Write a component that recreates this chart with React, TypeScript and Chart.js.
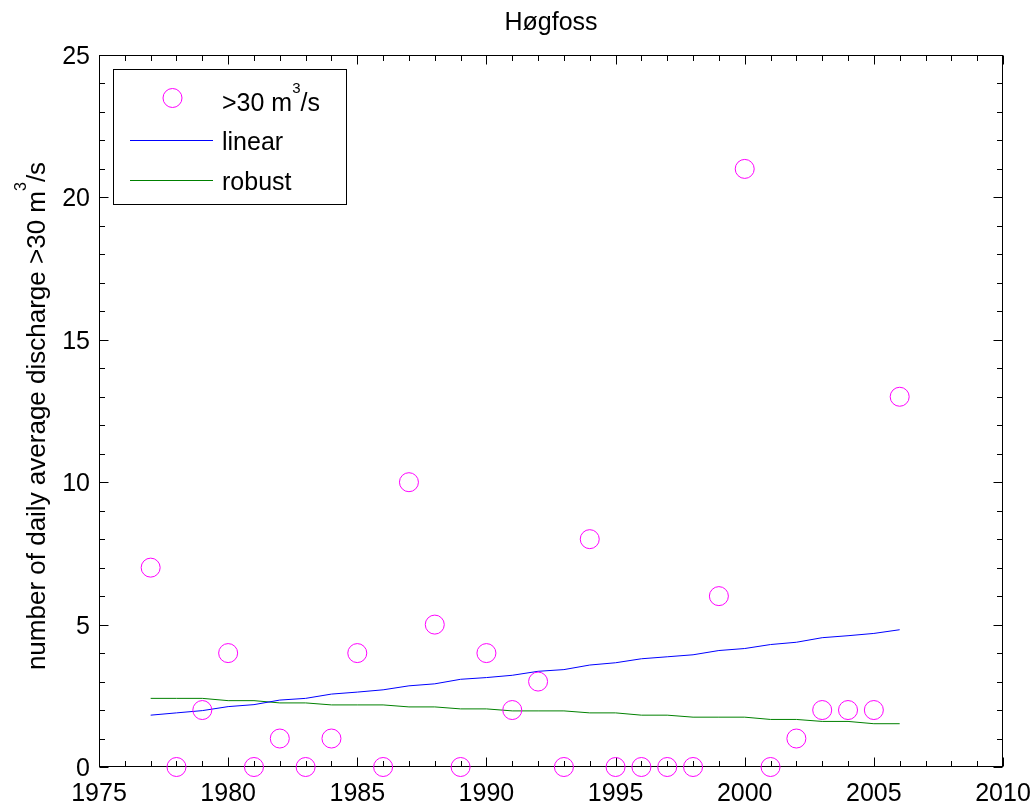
import React, { useEffect, useRef } from "react";
import { Chart, registerables } from "chart.js";

Chart.register(...registerables);

// ---------------- data ----------------
const years = [
  1977, 1978, 1979, 1980, 1981, 1982, 1983, 1984, 1985, 1986,
  1987, 1988, 1989, 1990, 1991, 1992, 1993, 1994, 1995, 1996,
  1997, 1998, 1999, 2000, 2001, 2002, 2003, 2004, 2005, 2006,
];
const exceedDays = [
  7, 0, 2, 4, 0, 1, 0, 1, 4, 0,
  10, 5, 0, 4, 2, 3, 0, 8, 0, 0,
  0, 0, 6, 21, 0, 1, 2, 2, 2, 13,
];
const linearTrend = [
  1.82, 1.9, 1.98, 2.12, 2.19, 2.35, 2.41, 2.56, 2.63, 2.71,
  2.85, 2.92, 3.08, 3.14, 3.22, 3.36, 3.42, 3.58, 3.66, 3.8,
  3.87, 3.94, 4.09, 4.16, 4.3, 4.38, 4.54, 4.61, 4.69, 4.82,
];
const robustTrend = [
  2.41, 2.41, 2.41, 2.33, 2.33, 2.25, 2.25, 2.18, 2.18, 2.18,
  2.11, 2.11, 2.04, 2.04, 1.97, 1.97, 1.97, 1.9, 1.9, 1.82,
  1.82, 1.75, 1.75, 1.75, 1.67, 1.67, 1.6, 1.6, 1.52, 1.52,
];
const xTickLabels = [1975, 1980, 1985, 1990, 1995, 2000, 2005, 2010];
const yTickLabels = [0, 5, 10, 15, 20, 25];
const titleText = "Høgfoss";
// rich text pieces: [text, isSuperscript]
const yAxisTitle: [string, boolean][] = [
  ["number of daily average discharge >30 m", false],
  ["3", true],
  ["/s", false],
];
const legendLabels: [string, boolean][][] = [
  [[">30 m", false], ["3", true], ["/s", false]],
  [["linear", false]],
  [["robust", false]],
];
const seriesColors = ["#ff00ff", "#0000ff", "#008000"];

const FONT_FAMILY = '"Liberation Sans", Arial, Helvetica, sans-serif';
const FS = 25;

function richWidth(ctx: CanvasRenderingContext2D, parts: [string, boolean][], size: number) {
  let w = 0;
  for (const [t, sup] of parts) {
    ctx.font = `${sup ? Math.round(size * 0.6) : size}px ${FONT_FAMILY}`;
    w += ctx.measureText(t).width;
  }
  return w;
}

function drawRich(
  ctx: CanvasRenderingContext2D,
  parts: [string, boolean][],
  x: number,
  y: number,
  size: number
) {
  let cx = x;
  ctx.textAlign = "left";
  ctx.textBaseline = "alphabetic";
  for (const [t, sup] of parts) {
    ctx.font = `${sup ? Math.round(size * 0.6) : size}px ${FONT_FAMILY}`;
    ctx.fillText(t, cx, sup ? y - size * 0.72 : y);
    cx += ctx.measureText(t).width;
  }
}

const framePlugin = {
  id: "matlabFrame",
  beforeDatasetsDraw(chart: any) {
    const ctx: CanvasRenderingContext2D = chart.ctx;
    const a = chart.chartArea;
    const xs = chart.scales.x;
    const ys = chart.scales.y;
    ctx.save();
    ctx.strokeStyle = "#000";
    ctx.lineWidth = 1;
    const L = Math.round(a.left) + 0.5;
    const R = Math.round(a.right) - 0.5;
    const T = Math.round(a.top) + 0.5;
    const B = Math.round(a.bottom) - 0.5;
    ctx.strokeRect(L, T, R - L, B - T);
    ctx.beginPath();
    // x ticks (every year; majors every 5)
    for (let v = xs.min; v <= xs.max + 1e-9; v += 1) {
      const len = Math.abs(v % 5) < 1e-9 ? 9 : 5.5;
      const px = Math.round(xs.getPixelForValue(v)) + 0.5;
      ctx.moveTo(px, B);
      ctx.lineTo(px, B - len);
      ctx.moveTo(px, T);
      ctx.lineTo(px, T + len);
    }
    // y ticks (every unit; majors every 5)
    for (let v = ys.min; v <= ys.max + 1e-9; v += 1) {
      const len = Math.abs(v % 5) < 1e-9 ? 9 : 5.5;
      const py = Math.round(ys.getPixelForValue(v)) + 0.5;
      ctx.moveTo(L, py);
      ctx.lineTo(L + len, py);
      ctx.moveTo(R, py);
      ctx.lineTo(R - len, py);
    }
    ctx.stroke();
    ctx.restore();
  },
  afterDraw(chart: any) {
    const ctx: CanvasRenderingContext2D = chart.ctx;
    const a = chart.chartArea;
    const xs = chart.scales.x;
    const ys = chart.scales.y;
    ctx.save();
    ctx.fillStyle = "#000";
    ctx.font = `${FS}px ${FONT_FAMILY}`;
    // x tick labels
    ctx.textAlign = "center";
    ctx.textBaseline = "alphabetic";
    for (const v of xTickLabels) {
      ctx.fillText(String(v), xs.getPixelForValue(v), a.bottom + 34);
    }
    // y tick labels
    ctx.textAlign = "right";
    for (const v of yTickLabels) {
      ctx.fillText(String(v), a.left - 9, ys.getPixelForValue(v) + 9);
    }
    // title
    ctx.textAlign = "center";
    ctx.fillText(titleText, (a.left + a.right) / 2, 30);
    // y axis title
    ctx.save();
    ctx.translate(45, 416);
    ctx.rotate(-Math.PI / 2);
    const w = richWidth(ctx, yAxisTitle, 26);
    drawRich(ctx, yAxisTitle, -w / 2, 0, 26);
    ctx.restore();

    // legend box
    ctx.fillStyle = "#fff";
    ctx.fillRect(113, 69, 234, 136);
    ctx.strokeStyle = "#000";
    ctx.lineWidth = 1;
    ctx.strokeRect(113.5, 69.5, 233, 135);
    const rows = [98, 140, 180];
    // marker
    ctx.strokeStyle = seriesColors[0];
    ctx.beginPath();
    ctx.arc(172.5, rows[0], 9.5, 0, Math.PI * 2);
    ctx.stroke();
    // lines
    for (let i = 1; i < 3; i++) {
      ctx.strokeStyle = seriesColors[i];
      ctx.beginPath();
      ctx.moveTo(130, rows[i] + 0.5);
      ctx.lineTo(213, rows[i] + 0.5);
      ctx.stroke();
    }
    ctx.fillStyle = "#000";
    for (let i = 0; i < 3; i++) {
      drawRich(ctx, legendLabels[i], 222, rows[i] + (i === 0 ? 13 : 10), FS);
    }
    ctx.restore();
  },
};

export default function App() {
  const ref = useRef<HTMLCanvasElement | null>(null);

  useEffect(() => {
    if (!ref.current) return;
    const chart = new Chart(ref.current, {
      type: "scatter",
      data: {
        datasets: [
          {
            label: ">30 m3/s",
            data: years.map((x, i) => ({ x, y: exceedDays[i] })),
            showLine: false,
            pointStyle: "circle",
            pointRadius: 9.5,
            pointBorderWidth: 1,
            pointBorderColor: seriesColors[0],
            pointBackgroundColor: "rgba(0,0,0,0)",
            borderColor: seriesColors[0],
            backgroundColor: "rgba(0,0,0,0)",
            clip: false as any,
            order: 0,
          },
          {
            type: "line",
            label: "linear",
            data: years.map((x, i) => ({ x, y: linearTrend[i] })),
            borderColor: seriesColors[1],
            borderWidth: 1,
            pointRadius: 0,
            tension: 0,
            fill: false,
            order: 1,
          } as any,
          {
            type: "line",
            label: "robust",
            data: years.map((x, i) => ({ x, y: robustTrend[i] })),
            borderColor: seriesColors[2],
            borderWidth: 1,
            pointRadius: 0,
            tension: 0,
            fill: false,
            order: 2,
          } as any,
        ],
      },
      options: {
        animation: false,
        responsive: false,
        events: [],
        layout: { padding: { top: 55, right: 33, left: 0, bottom: 0 } },
        plugins: {
          legend: { display: false },
          title: { display: false },
          tooltip: { enabled: false },
        },
        scales: {
          x: {
            type: "linear",
            min: 1975,
            max: 2010,
            ticks: { display: false, stepSize: 5 },
            grid: { display: false },
            border: { display: false },
            afterFit: (s: any) => {
              s.height = 36;
            },
          },
          y: {
            type: "linear",
            min: 0,
            max: 25,
            ticks: { display: false, stepSize: 5 },
            grid: { display: false },
            border: { display: false },
            afterFit: (s: any) => {
              s.width = 99;
            },
          },
        },
      },
      plugins: [framePlugin],
    });
    return () => chart.destroy();
  }, []);

  return (
    <div
      style={{
        position: "absolute",
        left: 0,
        top: 0,
        width: 1036,
        height: 803,
        background: "#fff",
      }}
    >
      <canvas ref={ref} width={1036} height={803} style={{ display: "block" }} />
    </div>
  );
}
